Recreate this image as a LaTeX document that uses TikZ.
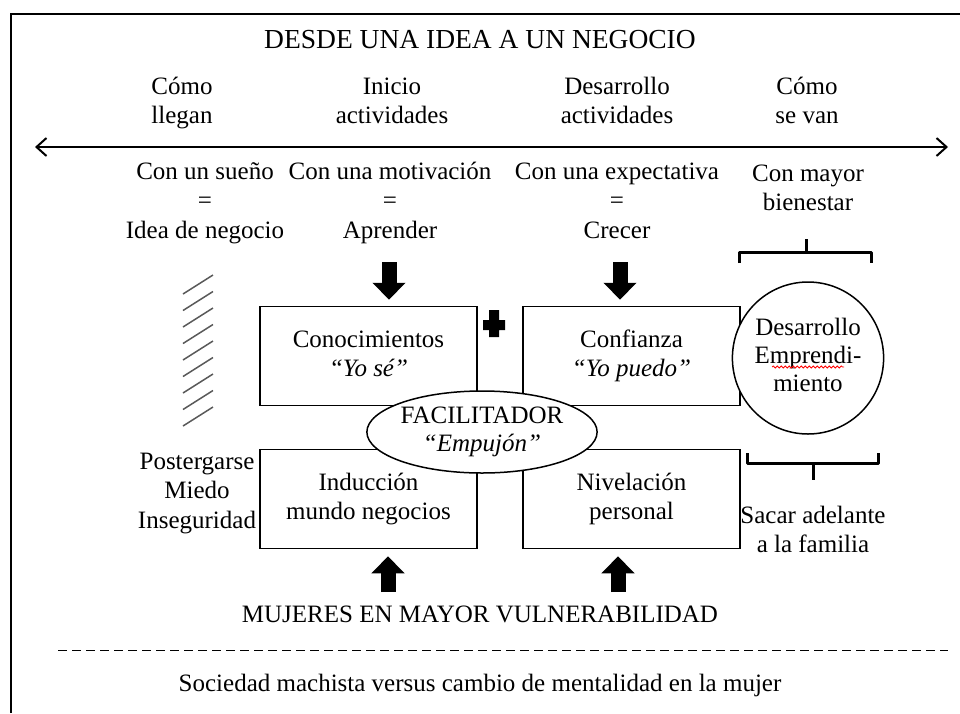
\documentclass[tikz,border=0pt]{standalone}
\usepackage{fontspec}
\setmainfont{Liberation Serif}
\usetikzlibrary{arrows.meta,shapes.geometric,decorations.pathmorphing}
\begin{document}
\begin{tikzpicture}[x=1pt,y=-1pt,
    txt/.style={align=center,font=\fontsize{25}{29.5}\selectfont},
    box/.style={draw,line width=1.5pt,minimum width=217pt,minimum height=99pt,
      align=center,font=\fontsize{25}{29.5}\selectfont},
    oval/.style={draw,ellipse,fill=white,line width=1.5pt,inner sep=0pt,
      align=center,font=\fontsize{25}{28}\selectfont},
    blockarrow/.style={line width=15pt,-{Triangle[width=32pt,length=17pt]}},
    brace/.style={line width=3pt,line join=round}]
      \useasboundingbox (0,0) rectangle (960,713);
      \draw[line width=2.5pt] (11,713) -- (11,14) -- (960,14);
      \draw
        (480,43) node[txt,font=\fontsize{27.5}{29.5}\selectfont] (title){\strut DESDE UNA IDEA A UN NEGOCIO}
        (182,103) node[txt] (h1){\strut Cómo\\llegan\strut}
        (392,103) node[txt] (h2){\strut Inicio\\actividades\strut}
        (617,103) node[txt] (h3){\strut Desarrollo\\actividades\strut}
        (807,103) node[txt] (h4){\strut Cómo\\se van\strut}
        (205,203) node[txt] (r1){\strut Con un sueño\\=\\Idea de negocio\strut}
        (390,203) node[txt] (r2){\strut Con una motivación\\=\\Aprender\strut}
        (617,203) node[txt] (r3){\strut Con una expectativa\\=\\Crecer\strut}
        (808,190) node[txt] (r4){\strut Con mayor\\bienestar\strut}
        (197,493) node[txt] (miedo){\strut Postergarse\\Miedo\\Inseguridad\strut}
        (813,532) node[txt] (familia){\strut Sacar adelante\\a la familia\strut}
        (480,617) node[txt] (mujeres){\strut MUJERES EN MAYOR VULNERABILIDAD}
        (480,686) node[txt] (sociedad){\strut Sociedad machista versus cambio de mentalidad en la mujer};
      \node[box] (conoc) at (368.5,356) {\strut Conocimientos\\\textit{“Yo sé”}\strut};
      \node[box] (confi) at (631.5,356) {\strut Confianza\\\textit{“Yo puedo”}\strut};
      \node[box] (induc) at (368.5,499) {\strut Inducción\\mundo negocios\strut};
      \node[box] (nivel) at (631.5,499) {\strut Nivelación\\personal\strut};
      \node[oval,minimum width=230pt,minimum height=82pt] (facil) at (482,432)
        {\strut FACILITADOR\\\textit{“Empujón”}\strut};
      \node[oval,minimum width=145pt,minimum height=152pt] (desar) at (808,358)
        {\strut Desarrollo\\Emprendi-\\miento\strut};
      \draw[red,line width=0.8pt,decorate,decoration={snake,amplitude=1pt,segment length=4pt}]
        (772,367) -- (844,367);
      \coordinate (left) at (35,147);
      \coordinate (right) at (948,147);
      \draw[line width=2pt,{Straight Barb[length=10pt,width=18pt]}-{Straight Barb[length=10pt,width=18pt]}]
        (left) -- (right);
      \coordinate (d1) at (389,262);
      \coordinate (d2) at (620,262);
      \coordinate (u1) at (388,592);
      \coordinate (u2) at (618,592);
      \begin{scope}[blockarrow]
        \draw (d1) -- (d1 |- conoc.north) [shorten >=6pt];
        \draw (d2) -- (d2 |- confi.north) [shorten >=6pt];
        \draw (u1) -- (u1 |- induc.south) [shorten >=7pt];
        \draw (u2) -- (u2 |- nivel.south) [shorten >=7pt];
      \end{scope}
      \fill (489,310) rectangle (499,337) (483,320) rectangle (505,330);
      \foreach \i in {0,...,8}
        \draw[gray!70!black,line width=1.5pt] (183,294+16.5*\i) -- (213,275+16.5*\i);
      \draw[brace] (739,263) -- (739,252) -- (871,252) -- (871,263) (806,252) -- (806,239);
      \draw[brace] (747,453) -- (747,463) -- (878,463) -- (878,453) (813,463) -- (813,480);
      \draw[dashed,dash pattern=on 9pt off 5pt,line width=1pt] (58,650) -- (948,650);
    \end{tikzpicture}
\end{document}
